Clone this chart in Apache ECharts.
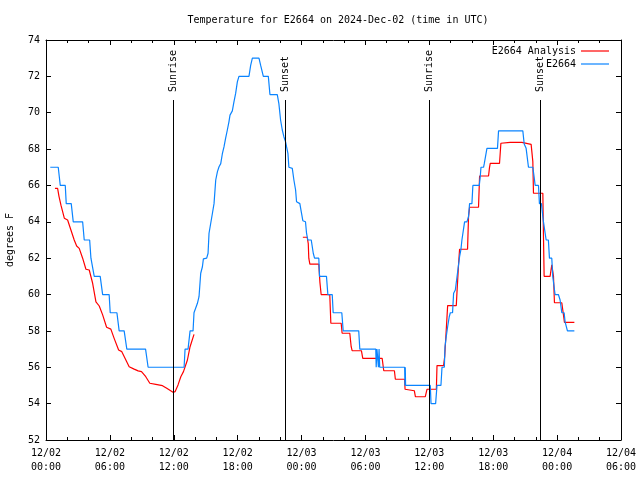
<!DOCTYPE html>
<html>
<head>
<meta charset="utf-8">
<script src="https://cdn.jsdelivr.net/npm/echarts@6/dist/echarts.min.js"></script>
<style>html,body{margin:0;padding:0;background:#fff;}#c{width:640px;height:480px;}</style>
</head>
<body>
<div id="c"></div>
<script>
// x values are hours after 2024-12-02 00:00 UTC
const xTickLabels = ['12/02\n00:00','12/02\n06:00','12/02\n12:00','12/02\n18:00','12/03\n00:00','12/03\n06:00','12/03\n12:00','12/03\n18:00','12/04\n00:00','12/04\n06:00'];
const seriesNames = ['E2664 Analysis', 'E2664'];

const analysisPoints = [
 [0.84,65.84],[1.09,65.84],[1.22,65.4],[1.41,64.9],[1.72,64.2],[2.03,64.1],[2.34,63.55],[2.65,63.0],[2.88,62.67],[3.12,62.54],
 [3.22,62.45],[3.44,62.0],[3.75,61.39],[4.06,61.35],[4.38,60.62],[4.69,59.6],[5.00,59.37],[5.32,58.88],[5.69,58.2],[6.09,58.1],
 [6.40,57.59],[6.82,56.95],[7.12,56.86],[7.50,56.4],[7.81,56.03],[8.28,55.9],[8.65,55.8],[8.97,55.76],[9.37,55.48],[9.75,55.12],
 [10.31,55.06],[10.94,54.99],[11.34,54.84],[11.93,54.62],[12.12,54.66],[12.40,55.03],[12.66,55.48],[12.91,55.76],[13.03,55.78],
 [13.28,56.4],[13.53,57.13],[13.90,57.81],
 [19.0,null],
 [24.12,63.15],[24.53,63.15],[24.63,62.8],[24.68,62.0],[24.78,61.67],[25.62,61.67],[25.72,60.7],[25.84,60.0],[26.65,60.0],
 [26.75,58.42],[27.72,58.42],[27.81,57.87],[28.53,57.87],[28.66,57.13],[28.75,56.91],[29.62,56.91],[29.75,56.49],[31.57,56.49],
 [31.72,55.81],[32.72,55.81],[32.81,55.34],[33.68,55.34],[33.72,54.79],[34.59,54.71],[34.69,54.38],[35.62,54.38],[35.78,54.79],
 [36.66,54.79],[36.72,56.09],[37.34,56.09],[37.44,56.58],[37.56,57.77],[37.72,59.39],[38.53,59.39],[38.60,60.16],[38.75,61.71],
 [38.84,62.49],[39.59,62.49],[39.68,64.28],[39.78,64.8],[40.62,64.8],[40.72,66.52],[41.56,66.52],[41.65,66.98],[41.72,67.21],
 [42.59,67.21],[42.72,68.32],[43.59,68.37],[44.69,68.37],[44.84,68.26],[45.56,68.26],[45.72,67.31],[45.78,65.57],[46.66,65.57],
 [46.72,63.18],[46.78,61.0],[47.34,61.0],[47.50,61.63],[47.66,61.0],[47.75,59.55],[48.44,59.55],[48.69,58.47],[49.62,58.47]
];

const stationPoints = [
 [0.40,67],[1.15,67],[1.34,66],[1.81,66],[1.90,65],[2.37,65],[2.56,64],[3.44,64],[3.59,63],[4.10,63],[4.22,62],[4.38,62],
 [4.53,61],[5.09,61],[5.32,60],[5.93,60],[6.03,59],[6.66,59],[6.87,58],[7.34,58],[7.59,57],[9.35,57],[9.59,56],[12.97,56],
 [13.06,57],[13.34,57],[13.53,58],[13.81,58],[13.90,59],[14.06,59],[14.22,59.52],[14.37,59.88],[14.53,61.17],[14.69,61.53],
 [14.78,61.96],[15.09,62.0],[15.22,62.27],[15.31,63.37],[15.47,63.92],[15.63,64.47],[15.78,65.0],[15.94,66.3],[16.10,66.76],
 [16.25,67.03],[16.41,67.2],[16.57,67.77],[16.72,68.13],[16.87,68.6],[17.03,69.05],[17.18,69.5],[17.28,69.87],[17.50,70.1],
 [17.65,70.6],[17.81,71.06],[17.97,71.7],[18.12,72.0],[19.06,72.0],[19.22,72.6],[19.38,73.0],[20.00,73.0],[20.16,72.6],
 [20.41,72.0],[20.88,72.0],[21.03,71.0],[21.72,71.0],[21.87,70.5],[22.03,69.6],[22.19,69.05],[22.34,68.68],[22.50,68.4],
 [22.59,68.13],[22.72,67.77],[22.81,67.0],[23.13,66.94],[23.28,66.3],[23.44,65.75],[23.53,65.1],[23.84,65.0],[23.97,64.56],
 [24.12,64.06],[24.37,64.0],[24.47,63.36],[24.59,63.0],[24.91,63.0],[25.10,62.27],[25.22,62.0],[25.62,62.0],[25.69,61.0],
 [26.34,61.0],[26.47,60.0],[26.88,60.0],[26.97,59.0],[27.78,59.0],[27.91,58.0],[29.37,58.0],[29.47,57.0],[30.97,57.0],
 [31.01,56.0],[31.08,57.0],[31.15,57.0],[31.22,56.0],[31.28,57.0],[31.34,56.0],[33.68,56.0],[33.71,55.0],[33.74,56.0],
 [33.77,55.0],[36.09,55.0],[36.16,54.0],[36.59,54.0],[36.72,55.0],[37.09,55.0],[37.19,56.0],[37.41,56.0],[37.47,57.13],
 [37.59,57.7],[37.72,58.23],[37.87,58.78],[37.97,59.0],[38.18,59.0],[38.28,60.07],[38.44,60.25],[38.60,60.98],[38.84,62.08],
 [38.97,62.49],[39.06,63.0],[39.22,63.0],[39.31,64.0],[39.53,64.0],[39.68,64.28],[39.78,65.0],[40.00,65.0],[40.09,66.0],
 [40.69,66.0],[40.78,66.48],[40.85,67.0],[41.09,67.0],[41.16,67.2],[41.41,68.04],[42.40,68.04],[42.50,69.0],[44.78,69.0],
 [44.91,68.28],[45.09,68.04],[45.22,68.04],[45.31,67.0],[45.72,67.0],[45.84,66.48],[45.94,66.0],[46.25,66.0],[46.34,65.0],
 [46.53,65.0],[46.66,64.28],[46.72,64.0],[46.87,64.0],[46.97,63.0],[47.18,63.0],[47.28,62.0],[47.50,62.0],[47.59,61.0],
 [47.72,61.0],[47.81,60.0],[48.12,60.0],[48.28,59.7],[48.44,59.0],[48.66,59.0],[48.75,58.5],[48.97,58.0],[49.62,58.0]
];

const eventNames = ['Sunrise','Sunset','Sunrise','Sunset'];
const eventHours = [11.92, 22.45, 36.0, 46.42];

const X_MIN = 0, X_MAX = 54, X_STEP = 6;
const Y_MIN = 52, Y_MAX = 74, Y_STEP = 2;
const EVENT_LINE_TOP = 70.7;

const FONT = 'DejaVu Sans Mono';
const txt = {color:'#000', fontFamily: FONT, fontSize: 10};

const chart = echarts.init(document.getElementById('c'), null, {renderer:'canvas'});

const markData = [];
eventHours.forEach((h, i) => {
  markData.push([{coord:[h, Y_MIN]}, {coord:[h, EVENT_LINE_TOP]}]);
  markData.push([
    {coord:[h, EVENT_LINE_TOP], name: eventNames[i],
     lineStyle:{color:'rgba(0,0,0,0)', width:0},
     label:{show:true, formatter:'{b}', position:'insideStart', distance:[8,0], color:'#000', fontFamily:FONT, fontSize:10}},
    {coord:[h, Y_MAX]}
  ]);
});

const toData = pts => pts.map(p => [p[0], p[1] === null ? '-' : p[1]]);

const axisCommon = {
  axisLine:{show:true, onZero:false, lineStyle:{color:'#000', width:1}},
  splitLine:{show:false}
};

chart.setOption({
  animation:false,
  backgroundColor:'#fff',
  title:{text:'Temperature for E2664 on 2024-Dec-02 (time in UTC)', left:333, textAlign:'center', top:10,
         textStyle:{color:'#000', fontFamily:FONT, fontSize:10, fontWeight:'normal'}},
  grid:{left:46, right:19, top:40, bottom:40, containLabel:false, outerBoundsMode:'none'},
  legend:[
    {data:[seriesNames[0]], right:31, top:46, padding:0, align:'right', icon:'rect', itemWidth:28, itemHeight:1.2, textStyle:txt, selectedMode:false},
    {data:[seriesNames[1]], right:31, top:59, padding:0, align:'right', icon:'rect', itemWidth:28, itemHeight:1.2, textStyle:txt, selectedMode:false}
  ],
  xAxis:[
    Object.assign({type:'value', min:X_MIN, max:X_MAX, interval:X_STEP, position:'bottom',
      axisTick:{show:true, inside:true, length:5, lineStyle:{color:'#000'}},
      minorTick:{show:true, splitNumber:3, length:3, lineStyle:{color:'#000'}},
      axisLabel:{show:true, margin:6, lineHeight:14, color:'#000', fontFamily:FONT, fontSize:10,
        formatter: v => xTickLabels[Math.round((v - X_MIN) / X_STEP)] || ''}}, axisCommon),
    Object.assign({type:'value', min:X_MIN, max:X_MAX, interval:X_STEP, position:'top',
      axisTick:{show:true, inside:true, length:5, lineStyle:{color:'#000'}},
      minorTick:{show:true, splitNumber:3, length:3, lineStyle:{color:'#000'}},
      axisLabel:{show:false}}, axisCommon)
  ],
  yAxis:[
    Object.assign({type:'value', min:Y_MIN, max:Y_MAX, interval:Y_STEP, position:'left',
      name:'degrees F', nameLocation:'middle', nameGap:31, nameRotate:90,
      nameTextStyle:{color:'#000', fontFamily:FONT, fontSize:10},
      axisTick:{show:true, inside:true, length:5, lineStyle:{color:'#000'}},
      axisLabel:{show:true, margin:6, color:'#000', fontFamily:FONT, fontSize:10}}, axisCommon),
    Object.assign({type:'value', min:Y_MIN, max:Y_MAX, interval:Y_STEP, position:'right',
      axisTick:{show:true, inside:true, length:5, lineStyle:{color:'#000'}},
      axisLabel:{show:false}}, axisCommon)
  ],
  series:[
    {name:seriesNames[0], type:'line', data:toData(analysisPoints), symbol:'none', showSymbol:false,
     connectNulls:false, lineStyle:{color:'#ff0000', width:1.2}, itemStyle:{color:'#ff0000'}},
    {name:seriesNames[1], type:'line', data:toData(stationPoints), symbol:'none', showSymbol:false,
     lineStyle:{color:'#0a84ff', width:1.2}, itemStyle:{color:'#0a84ff'}},
    {name:'events', type:'line', data:[], symbol:'none',
     markLine:{silent:true, symbol:['none','none'], animation:false,
       lineStyle:{color:'#000', width:1, type:'solid'},
       label:{show:false},
       emphasis:{disabled:true},
       data: markData}}
  ]
});
</script>
</body>
</html>
